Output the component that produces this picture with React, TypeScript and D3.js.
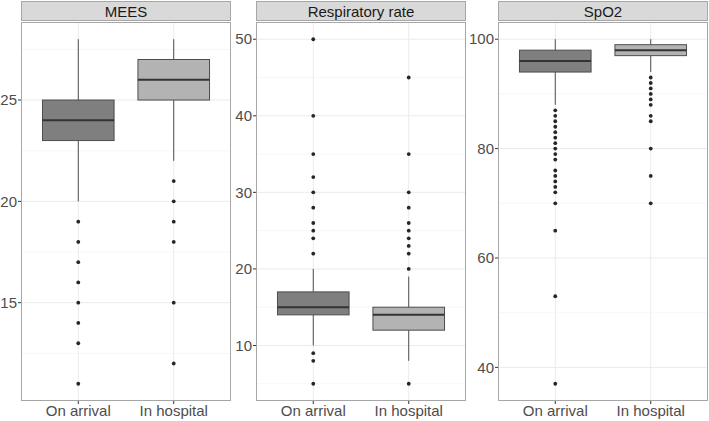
import React from "react";
import * as d3 from "d3";

const panelTitles = ["MEES", "Respiratory rate", "SpO2"];
const groups = ["On arrival", "In hospital"];

// [lowerWhisker, q1, median, q3, upperWhisker] per group
const meesStats = [[20, 23, 24, 25, 28], [22, 25, 26, 27, 28]];
const meesOutliers = [[19, 18, 17, 16, 15, 14, 13, 11], [21, 20, 19, 18, 15, 12]];
const meesTicks = [15, 20, 25];

const respStats = [[10, 14, 15, 17, 20], [8, 12, 14, 15, 19]];
const respOutliers = [
  [50, 40, 35, 32, 30, 28, 26, 25, 24, 22, 9, 8, 5],
  [45, 35, 30, 28, 26, 25, 24, 23, 22, 20, 5],
];
const respTicks = [10, 20, 30, 40, 50];

const spo2Stats = [[88, 94, 96, 98, 100], [94, 97, 98, 99, 100]];
const spo2Outliers = [
  [87, 86, 85, 84, 83, 82, 81, 80, 79, 78, 76, 75, 74, 73, 72, 70, 65, 53, 37],
  [93, 92, 91, 90, 89, 88, 86, 85, 80, 75, 70],
];
const spo2Ticks = [40, 60, 80, 100];

const allStats = [meesStats, respStats, spo2Stats];
const allOutliers = [meesOutliers, respOutliers, spo2Outliers];
const allTicks = [meesTicks, respTicks, spo2Ticks];

const W = 709;
const H = 421;
const panelLeft = [21, 256, 498];
const panelW = 210;
const plotTop = 22;
const plotBottom = 401;
const stripTop = 1;
const fills = ["#7f7f7f", "#b3b3b3"];
const font = "'Liberation Sans', Arial, sans-serif";

function Panel({ idx }: { idx: number }) {
  const stats = allStats[idx];
  const outs = allOutliers[idx];
  const ticks = allTicks[idx];
  const x0 = panelLeft[idx];
  const vals = stats.flat().concat(outs.flat());
  const lo = d3.min(vals) as number;
  const hi = d3.max(vals) as number;
  const pad = (hi - lo) * 0.05;
  const y = d3.scaleLinear().domain([lo - pad, hi + pad]).range([plotBottom, plotTop]);
  const x = d3.scaleLinear().domain([0.4, 2.6]).range([x0, x0 + panelW]);
  const step = ticks[1] - ticks[0];
  const minor: number[] = [];
  for (let v = ticks[0] - step / 2; v <= hi + pad; v += step) {
    if (v >= lo - pad) minor.push(v);
  }
  const bw = (x(1.375) - x(0.625));
  return (
    <g>
      {/* strip */}
      <rect x={x0 + 0.5} y={stripTop + 0.5} width={panelW - 1} height={plotTop - stripTop - 2} fill="#d9d9d9" stroke="#a6a6a6" strokeWidth={1} />
      <text x={x0 + panelW / 2} y={stripTop + 15.5} textAnchor="middle" fontSize={15} fill="#1a1a1a" fontFamily={font}>
        {panelTitles[idx]}
      </text>
      {/* grid */}
      {minor.map((v, i) => (
        <line key={"mn" + i} x1={x0} x2={x0 + panelW} y1={y(v)} y2={y(v)} stroke="#f2f2f2" strokeWidth={0.6} />
      ))}
      {ticks.map((v, i) => (
        <line key={"mj" + i} x1={x0} x2={x0 + panelW} y1={y(v)} y2={y(v)} stroke="#ebebeb" strokeWidth={1} />
      ))}
      {groups.map((g, i) => (
        <line key={"vg" + i} x1={x(i + 1)} x2={x(i + 1)} y1={plotTop} y2={plotBottom} stroke="#ebebeb" strokeWidth={1} />
      ))}
      {/* boxes */}
      {stats.map((s, i) => {
        const cx = x(i + 1);
        return (
          <g key={"b" + i}>
            <line x1={cx} x2={cx} y1={y(s[0])} y2={y(s[1])} stroke="#4d4d4d" strokeWidth={1} />
            <line x1={cx} x2={cx} y1={y(s[3])} y2={y(s[4])} stroke="#4d4d4d" strokeWidth={1} />
            <rect x={cx - bw / 2} y={y(s[3])} width={bw} height={y(s[1]) - y(s[3])} fill={fills[i]} stroke="#4d4d4d" strokeWidth={1} />
            <line x1={cx - bw / 2} x2={cx + bw / 2} y1={y(s[2])} y2={y(s[2])} stroke="#333333" strokeWidth={2} />
            {outs[i].map((o, j) => (
              <circle key={j} cx={cx} cy={y(o)} r={1.9} fill="#262626" />
            ))}
          </g>
        );
      })}
      {/* border */}
      <rect x={x0 + 0.5} y={plotTop + 0.5} width={panelW - 1} height={plotBottom - plotTop - 1} fill="none" stroke="#a6a6a6" strokeWidth={1} />
      {/* y axis */}
      {ticks.map((v, i) => (
        <g key={"yt" + i}>
          <line x1={x0 - 3} x2={x0} y1={y(v)} y2={y(v)} stroke="#333" strokeWidth={1} />
          <text x={x0 - 4} y={y(v)} dy="0.35em" textAnchor="end" fontSize={15} fill="#4d4d4d" fontFamily={font}>
            {v}
          </text>
        </g>
      ))}
      {/* x axis */}
      {groups.map((g, i) => (
        <g key={"xt" + i}>
          <line x1={x(i + 1)} x2={x(i + 1)} y1={plotBottom} y2={plotBottom + 3} stroke="#333" strokeWidth={1} />
          <text x={x(i + 1)} y={plotBottom + 15} textAnchor="middle" fontSize={15} fill="#4d4d4d" fontFamily={font}>
            {g}
          </text>
        </g>
      ))}
    </g>
  );
}

export default function App() {
  return (
    <svg width={W} height={H} style={{ position: "absolute", left: 0, top: 0, background: "#fff" }}>
      <rect x={0} y={0} width={W} height={H} fill="#fff" />
      {[0, 1, 2].map((i) => (
        <Panel key={i} idx={i} />
      ))}
    </svg>
  );
}
